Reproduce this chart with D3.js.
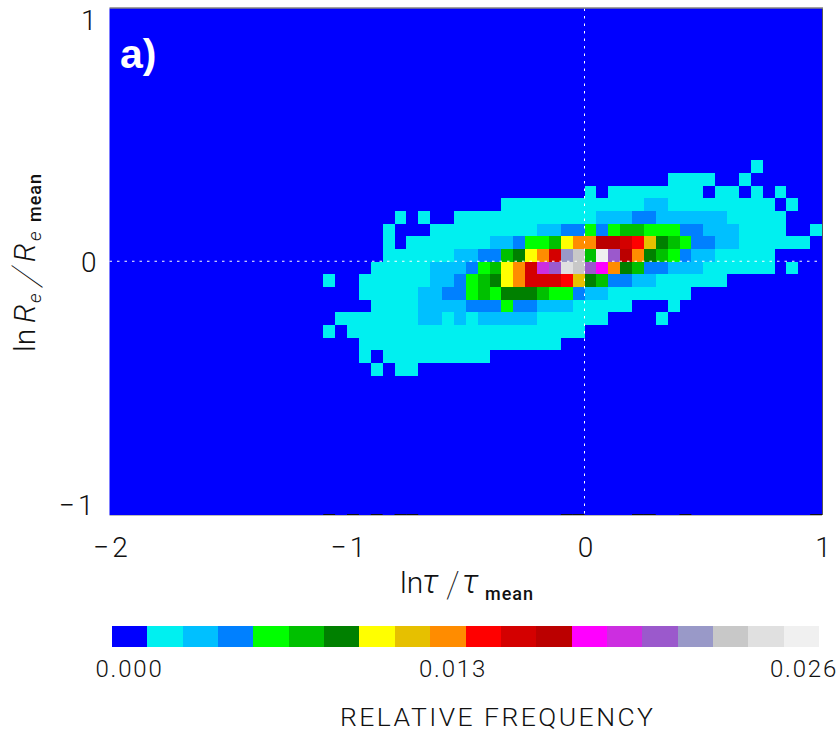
<!DOCTYPE html>
<html>
<head>
<meta charset="utf-8">
<script src="https://cdnjs.cloudflare.com/ajax/libs/d3/7.8.5/d3.min.js"></script>
<style>
  html, body { margin: 0; padding: 0; background: #fff; }
  svg { display: block; }
  text { font-family: Roboto, "Liberation Sans", sans-serif; font-weight: 300; fill: #111; }
</style>
</head>
<body>
<div id="app"></div>
<script>
const WIDTH = 840
const HEIGHT = 732
const LEFT = 109.5, RIGHT = 822, TOP = 8.5, BOTTOM = 515

// one colour per 0.0013 of relative frequency
const levelColors = [
  '#0000ff', '#00f0f0', '#00c0ff', '#0080ff', '#00ff00', '#00c000', '#008000',
  '#ffff00', '#e6c000', '#ff8c00', '#ff0000', '#d40000', '#bb0000', '#ff00ff',
  '#cc2ee0', '#9b59cc', '#9999c8', '#c8c8c8', '#e0e0e0', '#f0f0f0'
]
const maxFreq = 0.026

// histogram, bins 0.05 wide both ways. rowTop = upper edge of the row in lnRe,
// rowStart = left edge of the first bin in lnTau, rowLevels = colour level per bin (base 20)
const binSize = 0.05
const rowTop = [0.4, 0.35, 0.3, 0.25, 0.2, 0.15, 0.1, 0.05, 0, -0.05, -0.1, -0.15, -0.2, -0.25, -0.3, -0.35, -0.4]
const rowStart = [0.7, 0.35, 0, -0.35, -0.8, -0.85, -0.85, -0.85, -0.9, -1.1, -0.95, -0.9, -1.05, -1.1, -0.95, -0.95, -0.9]
const rowLevels = [
  '1',
  '1111001',
  '10111111110110101',
  '1111111111112211111111101',
  '101001111111111112223322222211111',
  '1000111111111223343455444332221111001',
  '101111111223445799ccba86543322111111',
  '11111122335679bgh5jfc965432211111',
  '1111122234579befihfd9653322211111101',
  '10011111122345679bbba8653322111111',
  '1111122334546665443221111111',
  '11112222333433222111110001',
  '1111111221212222211111100001',
  '1011111111111111111111',
  '11111111111111111',
  '10111111111',
  '1011'
]

// black bits along the bottom edge, lnTau of each bin
const bottomBins = [-1.1, -1, -0.9, -0.8, -0.75, -0.1, -0.05, 0.2, 0.25, 0.4, 0.95]

const xTicks = [-2, -1, 0, 1]
const yTicks = [-1, 0, 1]
const legendTicks = [0, 0.013, 0.026]

const x = d3.scaleLinear().domain([-2, 1]).range([LEFT, RIGHT])
const y = d3.scaleLinear().domain([-1, 1]).range([BOTTOM, TOP])
const color = d3.scaleQuantize().domain([0, maxFreq]).range(levelColors)

const minus = v => String(v).replace('-', '\u2212')

const svg = d3.select('#app').append('svg')
  .attr('width', WIDTH)
  .attr('height', HEIGHT)

// background is the zero level
svg.append('rect')
  .attr('x', x(-2))
  .attr('y', y(1))
  .attr('width', x(1) - x(-2))
  .attr('height', y(-1) - y(1))
  .attr('fill', color(0))

const cells = []
rowLevels.forEach((row, r) => {
  row.split('').forEach((ch, k) => {
    const level = parseInt(ch, 20)
    if (level === 0) return
    cells.push({
      tau: rowStart[r] + k * binSize,
      re: rowTop[r],
      freq: (level + 0.5) * maxFreq / levelColors.length
    })
  })
})

svg.append('g').selectAll('rect')
  .data(cells)
  .enter().append('rect')
  .attr('x', d => x(d.tau))
  .attr('y', d => y(d.re))
  .attr('width', d => x(d.tau + binSize) - x(d.tau))
  .attr('height', d => y(d.re - binSize) - y(d.re))
  .attr('fill', d => color(d.freq))
  .attr('shape-rendering', 'crispEdges')

// dotted zero lines
svg.append('line')
  .attr('x1', x(-2)).attr('x2', x(1))
  .attr('y1', y(0) - 0.5).attr('y2', y(0) - 0.5)
  .attr('stroke', '#fff').attr('stroke-dasharray', '2.5 5')
svg.append('line')
  .attr('x1', x(0)).attr('x2', x(0))
  .attr('y1', y(1)).attr('y2', y(-1))
  .attr('stroke', '#fff').attr('stroke-dasharray', '2.5 5')

// frame bits
svg.append('line')
  .attr('x1', x(-2)).attr('x2', x(1) + 1)
  .attr('y1', y(1) - 0.5).attr('y2', y(1) - 0.5)
  .attr('stroke', '#444')
svg.append('line')
  .attr('x1', x(1) + 0.5).attr('x2', x(1) + 0.5)
  .attr('y1', y(1)).attr('y2', y(-1))
  .attr('stroke', '#555')
svg.append('line')
  .attr('x1', x(-2)).attr('x2', x(1))
  .attr('y1', y(-1) + 0.5).attr('y2', y(-1) + 0.5)
  .attr('stroke', '#bbb')
svg.append('g').selectAll('line')
  .data(bottomBins)
  .enter().append('line')
  .attr('x1', d => x(d))
  .attr('x2', d => x(d + binSize))
  .attr('y1', y(-1) - 0.5)
  .attr('y2', y(-1) - 0.5)
  .attr('stroke', '#111')

// axes, labels only
const xAxis = svg.append('g')
  .attr('transform', 'translate(0,' + BOTTOM + ')')
  .call(d3.axisBottom(x).tickValues(xTicks).tickSize(0).tickPadding(22).tickFormat(minus))
const yAxis = svg.append('g')
  .attr('transform', 'translate(' + LEFT + ',0)')
  .call(d3.axisLeft(y).tickValues(yTicks).tickSize(0).tickPadding(10).tickFormat(minus))
xAxis.select('.domain').remove()
yAxis.select('.domain').remove()
xAxis.selectAll('text').style('font-size', '28px').attr('letter-spacing', 3).attr('dx', 2)
yAxis.selectAll('text').style('font-size', '28px').attr('letter-spacing', 3)
// end labels sit inside the axis range
yAxis.selectAll('.tick text')
  .attr('dx', d => d === -1 ? -3 : 0)
  .attr('dy', d => d === 1 ? '0.75em' : d === -1 ? '-0.02em' : '0.36em')

svg.append('text')
  .attr('x', 120)
  .attr('y', 68)
  .attr('font-size', 41)
  .style('font-family', '"Liberation Sans"')
  .style('font-weight', 'bold')
  .style('fill', '#fff')
  .text('a)')

// x title
const xTitle = svg.append('g').attr('transform', 'translate(400,593)')
xTitle.append('text').attr('font-size', 30).text('ln')
xTitle.append('text').attr('x', 22).attr('font-size', 33).attr('font-style', 'italic').text('\u03c4')
xTitle.append('text').attr('x', 46).attr('y', 4).attr('font-size', 36).style('font-weight', 100).text('/')
xTitle.append('text').attr('x', 62).attr('font-size', 33).attr('font-style', 'italic').text('\u03c4')
xTitle.append('text').attr('x', 85).attr('y', 7).attr('font-size', 18).attr('letter-spacing', 1)
  .style('font-weight', 500).text('mean')

// y title, drawn along the rotated axis
const yTitle = svg.append('g').attr('transform', 'translate(35,352) rotate(-90)')
yTitle.append('text').attr('font-size', 30).text('ln')
yTitle.append('text').attr('x', 29).attr('font-size', 30).attr('font-style', 'italic').text('R')
yTitle.append('text').attr('x', 49).attr('y', 6).attr('font-size', 19).attr('font-style', 'italic').text('e')
yTitle.append('text').attr('transform', 'translate(64,5) skewX(-18)').attr('font-size', 40).style('font-weight', 100).text('/')
yTitle.append('text').attr('x', 90).attr('font-size', 30).attr('font-style', 'italic').text('R')
yTitle.append('text').attr('x', 111).attr('y', 6).attr('font-size', 19).attr('font-style', 'italic').text('e')
yTitle.append('text').attr('x', 130).attr('y', 6).attr('font-size', 18).attr('letter-spacing', 1)
  .style('font-weight', 500).text('mean')

// colour bar
const barX = d3.scaleBand()
  .domain(d3.range(levelColors.length))
  .range([112, 819])
svg.append('g').selectAll('rect')
  .data(levelColors)
  .enter().append('rect')
  .attr('x', (d, i) => barX(i))
  .attr('y', 626)
  .attr('width', barX.bandwidth())
  .attr('height', 21)
  .attr('fill', d => d)
  .attr('shape-rendering', 'crispEdges')

const legendX = d3.scaleLinear().domain(legendTicks).range([129.5, 453, 804])
svg.append('g').selectAll('text')
  .data(legendTicks)
  .enter().append('text')
  .attr('x', d => legendX(d))
  .attr('y', 677)
  .attr('text-anchor', 'middle')
  .attr('font-size', 24)
  .attr('letter-spacing', 1.8)
  .text(d => d.toFixed(3))

svg.append('text')
  .attr('x', 340)
  .attr('y', 725.5)
  .attr('font-size', 26.5)
  .attr('textLength', 313)
  .attr('lengthAdjust', 'spacing')
  .text('RELATIVE FREQUENCY')
</script>
</body>
</html>
